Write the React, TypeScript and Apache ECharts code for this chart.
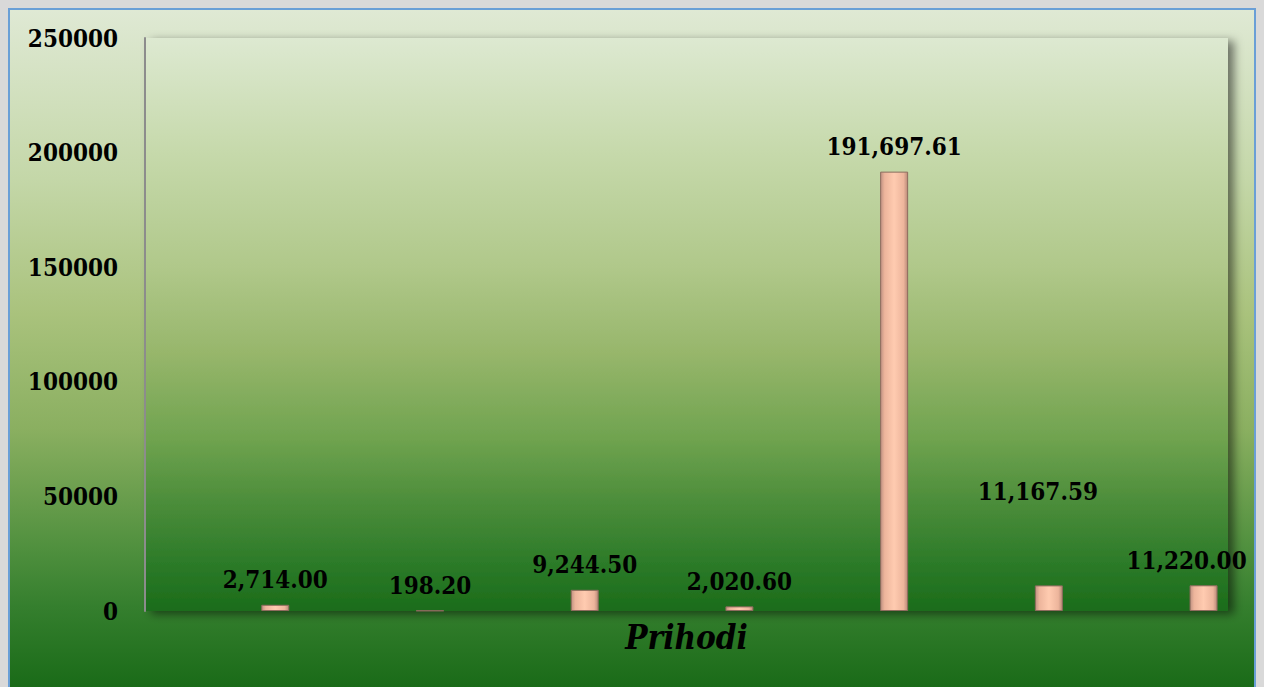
import React, { useEffect, useRef } from "react";
import * as echarts from "echarts";

const categories = ["1", "2", "3", "4", "5", "6", "7"];
const values = [2714.0, 198.2, 9244.5, 2020.6, 191697.61, 11167.59, 11220.0];
const axisName = "Prihodi";
const yMin = 0;
const yMax = 250000;
const yInterval = 50000;

const FONT = "'DejaVu Serif Condensed', 'DejaVu Serif', serif";

const fmt = (v: number) =>
  v.toLocaleString("en-US", { minimumFractionDigits: 2, maximumFractionDigits: 2 });

export default function App() {
  const ref = useRef<HTMLDivElement>(null);
  useEffect(() => {
    document.documentElement.style.overflow = "hidden";
    document.body.style.background = "#d9d9d9";
    if (!ref.current) return;
    const chart = echarts.init(ref.current, undefined, { renderer: "svg" });

    const bg = new echarts.graphic.LinearGradient(0, 0, 0, 1, [
      { offset: 0, color: "#dfe9d4" },
      { offset: 0.25, color: "#c4d7a8" },
      { offset: 0.45, color: "#a9c27c" },
      { offset: 0.62, color: "#8aaf60" },
      { offset: 0.8, color: "#4e8f3d" },
      { offset: 0.88, color: "#357f2e" },
      { offset: 1, color: "#1a6b18" },
    ]);
    const plotBg = new echarts.graphic.LinearGradient(0, 0, 0, 1, [
      { offset: 0, color: "#dde9d1" },
      { offset: 0.2, color: "#c6d9ab" },
      { offset: 0.4, color: "#b0c88a" },
      { offset: 0.55, color: "#97b66b" },
      { offset: 0.7, color: "#6fa34f" },
      { offset: 0.8, color: "#4f8f3c" },
      { offset: 0.92, color: "#2b7a28" },
      { offset: 1, color: "#1b6c1a" },
    ]);
    const barColor = new echarts.graphic.LinearGradient(0, 0, 1, 0, [
      { offset: 0, color: "#c09282" },
      { offset: 0.15, color: "#edb59c" },
      { offset: 0.5, color: "#ffcbb0" },
      { offset: 0.85, color: "#edb59c" },
      { offset: 1, color: "#b98a78" },
    ]);

    const labelShift: Record<number, number[]> = { 5: [-11, -69], 6: [-17, 0] };

    chart.setOption({
      animation: false,
      backgroundColor: bg,
      grid: {
        left: 135,
        right: 26,
        top: 28,
        bottom: 76,
        show: true,
        borderWidth: 0,
        backgroundColor: plotBg,
        shadowColor: "rgba(0,0,0,0.5)",
        shadowBlur: 10,
        shadowOffsetX: 6,
        shadowOffsetY: 3,
      },
      xAxis: {
        type: "category",
        data: categories,
        axisLine: { show: false },
        axisTick: { show: false },
        axisLabel: { show: false },
        name: axisName,
        nameLocation: "middle",
        nameGap: 10,
        nameTextStyle: {
          fontFamily: FONT,
          fontSize: 33,
          fontWeight: "bold",
          fontStyle: "italic",
          color: "#000",
          verticalAlign: "top",
        },
      },
      yAxis: {
        type: "value",
        min: yMin,
        max: yMax,
        interval: yInterval,
        splitLine: { show: false },
        axisTick: { show: false },
        axisLine: { show: true, lineStyle: { color: "#8c8c8c", width: 2 } },
        axisLabel: {
          margin: 27,
          fontFamily: FONT,
          fontSize: 24,
          fontWeight: "bold",
          color: "#000",
          formatter: (v: number) => String(v),
        },
      },
      series: [
        {
          type: "bar",
          data: values.map(() => null),
          barWidth: 28,
          barGap: "278%",
          silent: true,
        },
        {
          type: "bar",
          barWidth: 28,
          barGap: "278%",
          data: values.map((v, i) => ({
            value: v,
            label: labelShift[i] ? { offset: labelShift[i] } : undefined,
          })),
          itemStyle: {
            color: barColor,
            borderColor: "#8e6b5e",
            borderWidth: 1,
          },
          label: {
            show: true,
            position: "top",
            distance: 13,
            fontFamily: FONT,
            fontSize: 24,
            fontWeight: "bold",
            color: "#000",
            formatter: (p: any) => fmt(p.value),
          },
        },
      ],
    });
    return () => chart.dispose();
  }, []);

  return (
    <div style={{ width: 1244, height: 677, border: "2px solid #6a9fd6", borderBottom: "none" }}>
      <div ref={ref} style={{ width: 1244, height: 677 }} />
    </div>
  );
}
